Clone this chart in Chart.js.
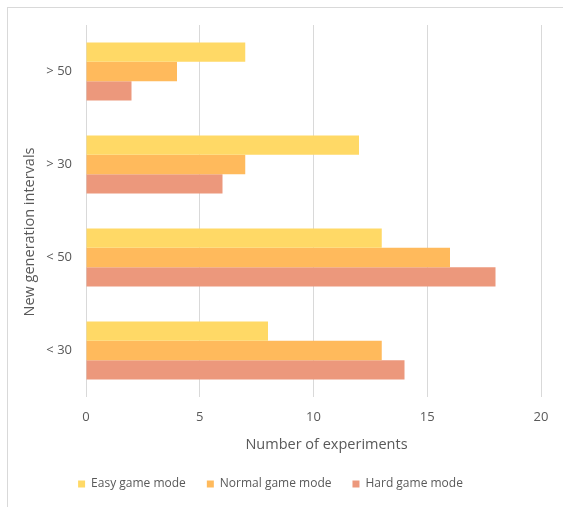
<!DOCTYPE html>
<html>
<head>
<meta charset="utf-8">
<script src="https://cdn.jsdelivr.net/npm/chart.js@4"></script>
<style>
  html, body { margin: 0; padding: 0; background: #fff; }
  #wrap { position: relative; width: 563px; height: 507px; }
  #frame {
    position: absolute; left: 7px; top: 7px; width: 600px; height: 600px;
    border-left: 1px solid #d9d9d9; border-top: 1px solid #d9d9d9;
  }
  canvas { position: absolute; left: 0; top: 0; }
</style>
</head>
<body>
<div id="wrap">
  <div id="frame"></div>
  <canvas id="chart" width="563" height="507"></canvas>
</div>
<script>
// --- Data ---
const categories = ['> 50', '> 30', '< 50', '< 30'];
const easyMode = [7, 12, 13, 8];
const normalMode = [4, 7, 16, 13];
const hardMode = [2, 6, 18, 14];
const xTicks = [0, 5, 10, 15, 20];
const xTitle = 'Number of experiments';
const yTitle = 'New generation intervals';

const FONT = '"Open Sans", Lato, sans-serif';
const GREY = '#595959';

// Excel places its axis titles a bit off the plot centre, so draw them by hand
const axisTitles = {
  id: 'axisTitles',
  afterDraw(chart) {
    const { ctx, chartArea } = chart;
    ctx.save();
    ctx.fillStyle = GREY;
    ctx.font = '14.5px ' + FONT;
    ctx.textAlign = 'center';
    ctx.textBaseline = 'middle';
    ctx.fillText(xTitle, (chartArea.left + chartArea.right) / 2 + 13, chartArea.bottom + 48);
    ctx.translate(30, (chartArea.top + chartArea.bottom) / 2 + 21);
    ctx.rotate(-Math.PI / 2);
    ctx.fillText(yTitle, 0, 0);
    ctx.restore();
  }
};

const ctx = document.getElementById('chart').getContext('2d');

new Chart(ctx, {
  type: 'bar',
  data: {
    labels: categories,
    datasets: [
      { label: 'Easy game mode', data: easyMode, backgroundColor: '#FFD966' },
      { label: 'Normal game mode', data: normalMode, backgroundColor: '#FFBA5C' },
      { label: 'Hard game mode', data: hardMode, backgroundColor: '#EC987C' },
    ]
  },
  plugins: [axisTitles],
  options: {
    indexAxis: 'y',
    responsive: false,
    animation: false,
    categoryPercentage: 0.625,
    barPercentage: 1,
    layout: { padding: { top: 25, right: 22, left: 0, bottom: 7 } },
    plugins: {
      legend: {
        position: 'bottom',
        labels: {
          boxWidth: 7,
          boxHeight: 7,
          padding: 21,
          color: GREY,
          font: { size: 12, family: FONT }
        }
      },
      tooltip: { enabled: false }
    },
    scales: {
      x: {
        min: 0,
        max: 20,
        afterBuildTicks: scale => { scale.ticks = xTicks.map(v => ({ value: v })); },
        grid: { color: '#d9d9d9', lineWidth: 1, drawTicks: false },
        border: { display: false },
        ticks: { color: GREY, font: { size: 13, family: FONT }, padding: 12 },
        afterFit: scale => { scale.height = 60; }
      },
      y: {
        grid: { display: false, drawTicks: false },
        border: { display: false },
        ticks: { color: GREY, font: { size: 13, family: FONT }, padding: 14 },
        afterFit: scale => { scale.width = 86; }
      }
    }
  }
});
</script>
</body>
</html>
